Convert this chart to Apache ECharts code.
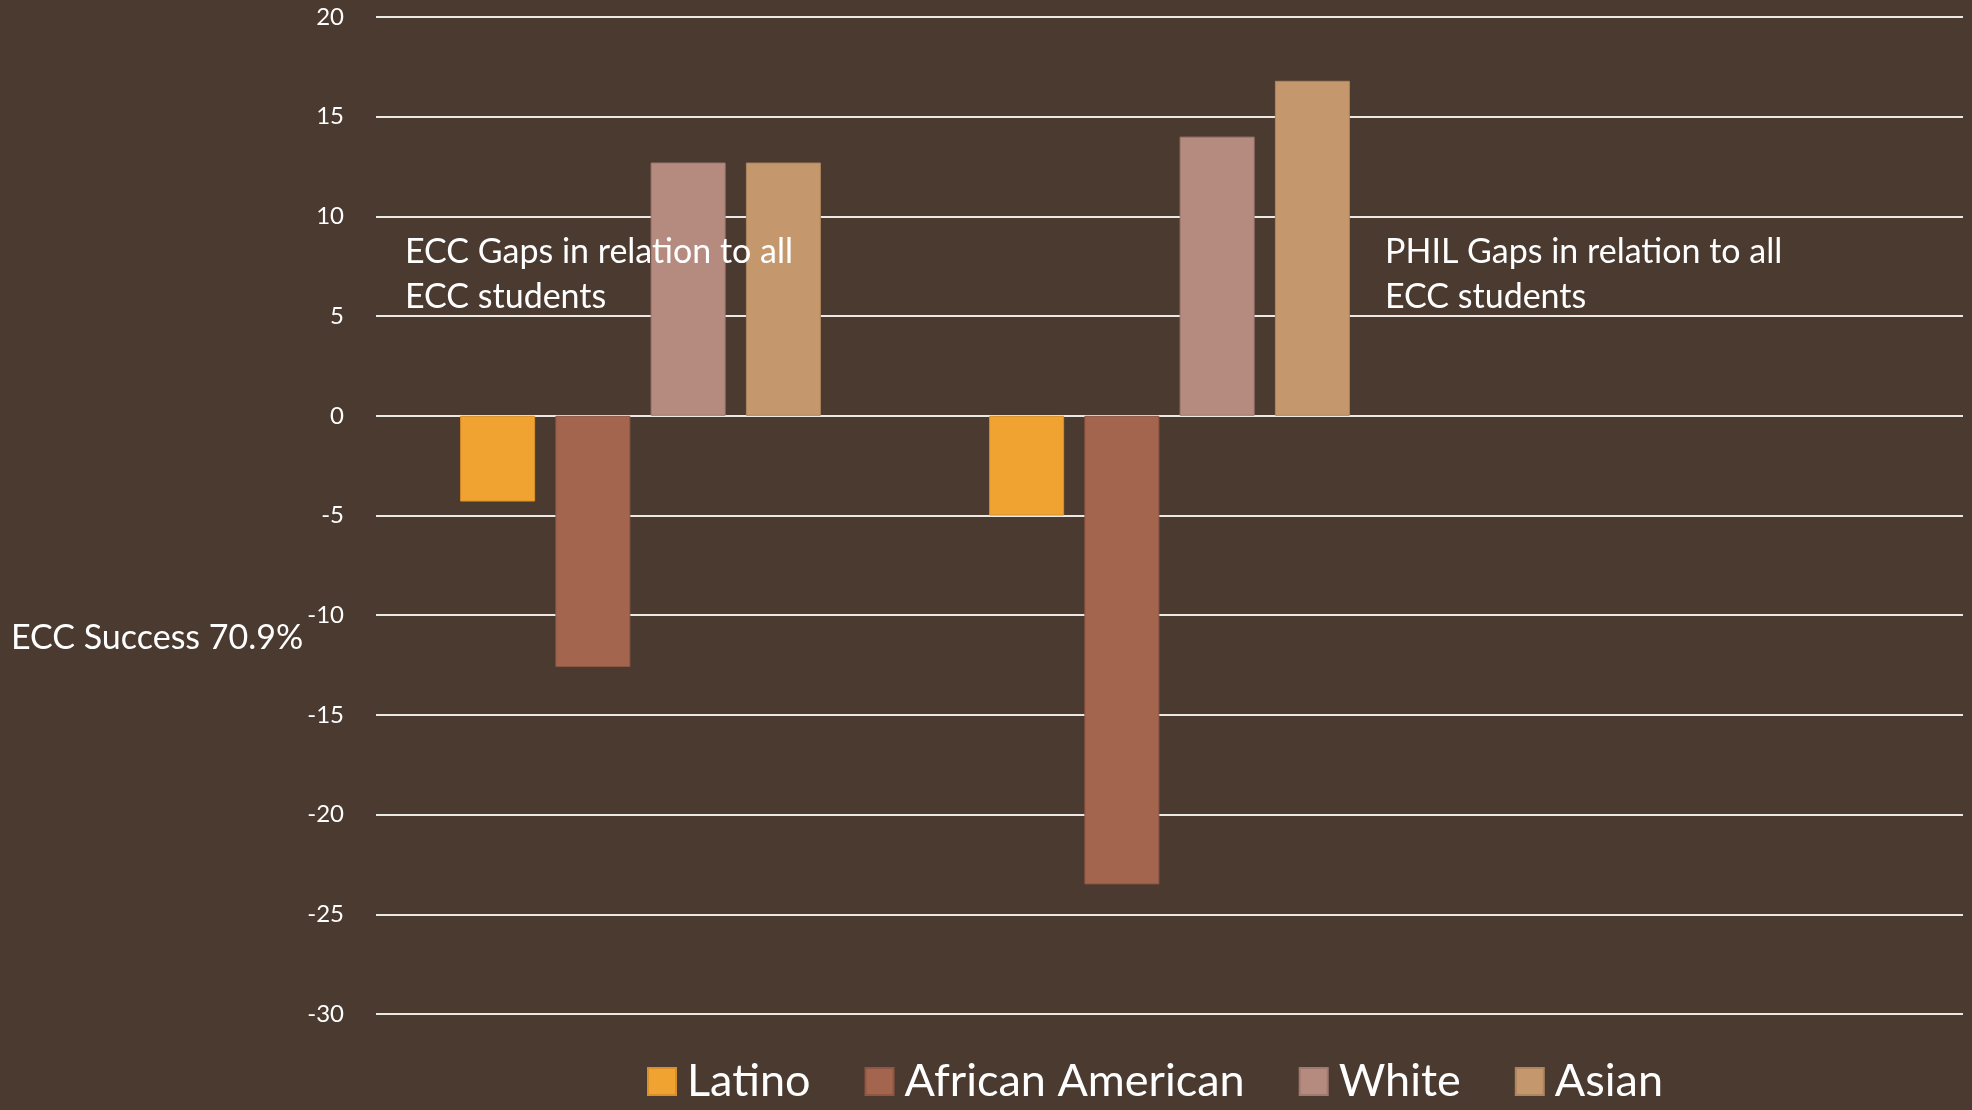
<!DOCTYPE html>
<html>
<head>
<meta charset="utf-8">
<title>ECC Gaps</title>
<script src="https://cdn.jsdelivr.net/npm/echarts@6/dist/echarts.min.js"></script>
<style>
  html, body { margin: 0; padding: 0; background: #4b3a30; }
  #chart { width: 1972px; height: 1110px; }
</style>
</head>
<body>
<div id="chart"></div>
<script>
  // groups on the x axis (third slot is empty in the original slide)
  var categories = ['ECC', 'PHIL', ''];
  var seriesNames = ['Latino', 'African American', 'White', 'Asian'];
  var latino = [-4.3, -5.0, null];
  var africanAmerican = [-12.6, -23.5, null];
  var white = [12.7, 14.0, null];
  var asian = [12.7, 16.8, null];
  var yTicks = { min: -30, max: 20, step: 5 };

  var colors = ['#f0a330', '#a4654f', '#b58a7f', '#c4976c'];
  var borders = ['#d98f2a', '#8f5644', '#a07a70', '#ad855f'];
  var values = [latino, africanAmerican, white, asian];

  var chart = echarts.init(document.getElementById('chart'));

  var series = seriesNames.map(function (name, i) {
    return {
      name: name,
      type: 'bar',
      barWidth: 75,
      barGap: '27%',
      z: 2,
      itemStyle: { color: colors[i], borderColor: borders[i], borderWidth: 1 },
      data: values[i]
    };
  });

  var option = {
    backgroundColor: '#4b3a30',
    animation: false,
    color: colors,
    grid: { left: 376, right: 9, top: 17, bottom: 96 },
    legend: {
      data: seriesNames,
      left: 642,
      top: 1054,
      itemWidth: 28,
      itemHeight: 27,
      itemGap: 54,
      icon: 'rect',
      textStyle: { color: '#ffffff', fontFamily: 'Lato', fontSize: 45, padding: [0, 0, 0, 6] }
    },
    xAxis: {
      type: 'category',
      data: categories,
      axisLine: { show: false },
      axisTick: { show: false },
      axisLabel: { show: false }
    },
    yAxis: {
      type: 'value',
      min: yTicks.min,
      max: yTicks.max,
      interval: yTicks.step,
      axisLine: { show: false },
      axisTick: { show: false },
      axisLabel: { color: '#ffffff', fontFamily: 'Lato', fontSize: 24, margin: 32 },
      splitLine: { lineStyle: { color: '#ece8e4', width: 2 } }
    },
    graphic: [
      {
        type: 'text', left: 405, top: 230, z: 100,
        style: { text: 'ECC Gaps in relation to all\nECC students', fill: '#ffffff', font: '34px Lato', lineHeight: 45 }
      },
      {
        type: 'text', left: 1385, top: 230, z: 100,
        style: { text: 'PHIL Gaps in relation to all\nECC students', fill: '#ffffff', font: '34px Lato', lineHeight: 45 }
      },
      {
        type: 'text', left: 11, top: 621, z: 100,
        style: { text: 'ECC Success 70.9%', fill: '#ffffff', font: '34px Lato' }
      }
    ],
    series: series
  };

  chart.setOption(option);
  window.addEventListener('resize', function () {
    chart.resize();
  });
</script>
</body>
</html>
